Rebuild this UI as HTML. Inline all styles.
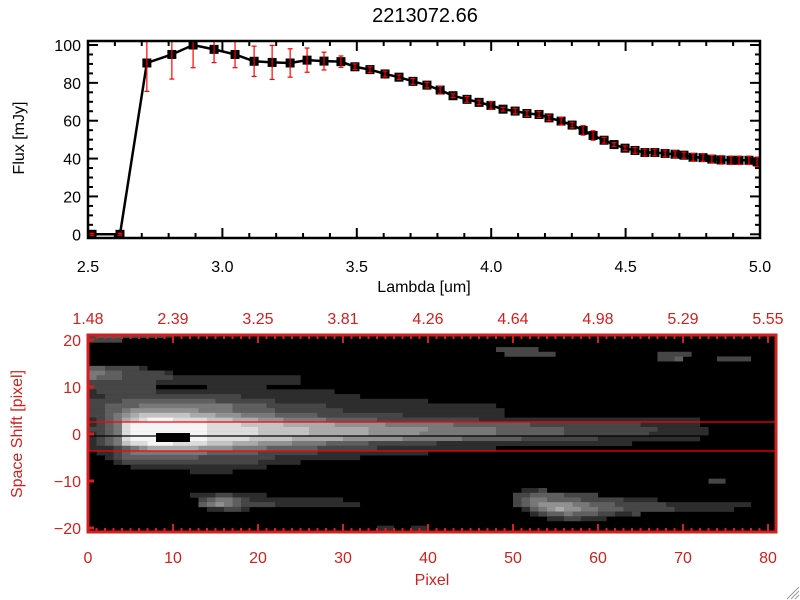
<!DOCTYPE html>
<html><head><meta charset="utf-8">
<style>
html,body{margin:0;padding:0;background:#fff;width:800px;height:600px;overflow:hidden}
svg{display:block;font-family:"Liberation Sans",sans-serif}
</style></head>
<body>
<svg id="c" width="800" height="600" viewBox="0 0 800 600">
<rect width="800" height="600" fill="#fff"/>
<text x="425" y="22" font-size="20" text-anchor="middle">2213072.66</text>
<g id="topg"></g>
<g id="botg"></g>
<g stroke="#999" stroke-width="1">
<line x1="787" y1="599" x2="799" y2="587"/><line x1="791" y1="599" x2="799" y2="591"/><line x1="795" y1="599" x2="799" y2="595"/>
</g>
</svg>
<script>
const lambdas=[2.515,2.619,2.719,2.812,2.891,2.969,3.047,3.118,3.185,3.252,3.315,3.378,3.441,3.493,3.549,3.605,3.657,3.709,3.761,3.810,3.858,3.910,3.955,3.999,4.044,4.089,4.133,4.178,4.215,4.260,4.301,4.342,4.379,4.420,4.457,4.498,4.535,4.572,4.609,4.647,4.684,4.717,4.751,4.788,4.821,4.855,4.892,4.922,4.959,4.989];
const flux=[0,0,90.5,95,100,97.7,95,91.4,90.8,90.5,92,91.5,91.2,88.5,87,84.7,83,80.8,78.8,76.2,73.2,71.3,69.7,68.1,66.1,65.1,63.8,63.3,61.5,59.8,57.7,54.9,52.2,49.7,47.4,45.5,44.3,43.2,43.2,42.7,42.3,41.8,40.7,40.5,39.7,39.3,39.1,39.1,39.1,38.3];
const fluxErr=[0.5,0.5,15,13,12,7,7,8,9,7.5,6.4,4.7,3,1.5,1.5,1.5,1.2,1.5,1.5,2,1,1.5,1.2,2,1,1.5,1.5,1.5,1.5,2,1.5,2.5,2.5,1.5,1,1.2,1.5,1.8,1.8,1.8,1.8,1.6,2,2,2,2.2,2.2,2.2,2.2,2.5];
const xTicksTop=[2.5,3.0,3.5,4.0,4.5,5.0];
const yTicksTop=[0,20,40,60,80,100];
const pixTicks=[0,10,20,30,40,50,60,70,80];
const waveTickLabels=["1.48","2.39","3.25","3.81","4.26","4.64","4.98","5.29","5.55"];
const shiftTicks=[-20,-10,0,10,20];
// heatmap: [row, startCol, levels 0-9]
const heatRows=[
[21,0,"2333222221"],[20,0,"2222"],
[18,48,"22222"],[17,49,"222222"],[17,67,"2222"],[16,67,"223"],[16,74,"2222"],
[14,0,"3322221"],[13,0,"4433222221"],
[12,0,"4333222222111111111111111"],[11,0,"2222222211111111111111111"],
[10,0,"222222220000001111111"],[9,0,"12222222111111111111111111111"],
[8,0,"11222222222222222211111111111111"],[7,0,"2222333333333332222222111111111111111111"],
[6,0,"223333444444444443333222222211111111111111111111"],
[5,0,"2233455555555444433333222222221111111111111111111"],
[4,0,"2234567777776665554444333332222222222111111111111"],
[3,0,"123467899988887776665554444433333322222222222211111111111111111111111111"],
[2,0,"123489999999998888777776666665555554444444433333333322222222222221111111"],
[1,0,"2234899999999988888877777766666665555555444444443333333322222222222111111"],
[0,0,"1234899999999988888877777766666665555554444444443333333322222222221111111"],
[-1,0,"123489999999998888877777666666555555544444443333333222222222111111111111"],
[-2,0,"1234788999888877766655554444333332222222211111111111111111111111"],
[-3,0,"111234566666655554444333333222222211111111111111"],
[-4,0,"0112344444444433333322222221111111111111"],
[-5,0,"00123333333332222222221111111111"],
[-6,0,"0001222222222222222211111"],[-7,0,"000001111111111111111"],
[-8,12,"11111"],[-10,73,"22"],
[-12,51,"112"],[-13,12,"111221111"],[-13,50,"2233332222"],
[-14,13,"23443211111111111"],[-14,50,"23443333222221111"],
[-15,13,"3454322221111111111"],[-15,50,"2345555443332222221111111111"],
[-16,14,"11221"],[-16,51,"1345655443332222221111111"],
[-17,52,"1233433322112"],[-18,54,"1122111"],[-20,34,"11"],[-20,38,"11"]
];
const svgNS="http://www.w3.org/2000/svg";
function mk(parent,tag,attrs,text){const e=document.createElementNS(svgNS,tag);for(const k in attrs)e.setAttribute(k,attrs[k]);if(text!==undefined)e.textContent=text;parent.appendChild(e);return e;}

// ---------- top plot ----------
const T={x0:88,x1:760,y0:41,y1:238};
const tx=v=>T.x0+(v-2.5)*(T.x1-T.x0)/2.5;
const ty=v=>234.3-v*1.893;
const topG=document.getElementById('topg');
const cp=mk(topG,'clipPath',{id:'clipTop'});
mk(cp,'rect',{x:T.x0,y:T.y0,width:T.x1-T.x0,height:T.y1-T.y0});
for(let i=0;i<=25;i++){const v=2.5+i*0.1;const x=tx(v);const major=i%5===0;const L=major?10:5;
 const t1=mk(topG,'line',{x1:x,y1:T.y1,x2:x,y2:T.y1-L,stroke:'#000','stroke-width':2});
 
 
 const t2=mk(topG,'line',{x1:x,y1:T.y0,x2:x,y2:T.y0+L,stroke:'#000','stroke-width':2});
 
 }
for(let v=0;v<=100;v+=5){const y=ty(v);const L=v%20===0?10:5;
 const t1=mk(topG,'line',{x1:T.x0,y1:y,x2:T.x0+L,y2:y,stroke:'#000','stroke-width':2});
 
 
 const t2=mk(topG,'line',{x1:T.x1,y1:y,x2:T.x1-L,y2:y,stroke:'#000','stroke-width':2});
 
 }
xTicksTop.forEach(v=>{const t=mk(topG,'text',{x:tx(v),y:272,'font-size':16,'text-anchor':'middle'},v.toFixed(1));
 
 });
yTicksTop.forEach(v=>{const t=mk(topG,'text',{x:81,y:ty(v)+6,'font-size':16,'text-anchor':'end'},String(v));
 
 });
const xl=mk(topG,'text',{x:424,y:292,'font-size':16,'text-anchor':'middle'},'Lambda [um]');


const yl=mk(topG,'text',{x:0,y:0,'font-size':16,'text-anchor':'middle',transform:'translate(24,138) rotate(-90)'},'Flux [mJy]');


const series=mk(topG,'g',{'clip-path':'url(#clipTop)'});


const fline=mk(series,'polyline',{points:lambdas.map((l,i)=>tx(l)+','+ty(flux[i])).join(' '),fill:'none',stroke:'#000','stroke-width':2.5});


lambdas.forEach((l,i)=>{const x=tx(l),y=ty(flux[i]);
 const m=mk(series,'rect',{x:x-4.5,y:y-4.5,width:9,height:9,fill:'#000'});
 
 });
lambdas.forEach((l,i)=>{const x=tx(l),ya=ty(flux[i]+fluxErr[i]),yb=ty(flux[i]-fluxErr[i]);
 const g=mk(series,'g',{stroke:'#f00','stroke-width':1.2});
 
 
 mk(g,'line',{x1:x,y1:ya,x2:x,y2:yb});mk(g,'line',{x1:x-2.5,y1:ya,x2:x+2.5,y2:ya});mk(g,'line',{x1:x-2.5,y1:yb,x2:x+2.5,y2:yb});});
const frame=mk(topG,'rect',{x:T.x0,y:T.y0,width:T.x1-T.x0,height:T.y1-T.y0,fill:'none',stroke:'#000','stroke-width':2.5});



// ---------- bottom plot ----------
const B={x0:88,x1:776,y0:335,y1:532};
const bx=c=>B.x0+c*8.5;
const by=r=>434-r*4.7;
const RED='#d02020';
const botG=document.getElementById('botg');
mk(botG,'rect',{x:B.x0,y:B.y0,width:B.x1-B.x0,height:B.y1-B.y0,fill:'#000'});
const heat=mk(botG,'g',{});


heatRows.forEach(([r,c0,s])=>{for(let k=0;k<s.length;k++){const L=+s[k];if(!L)continue;const g=Math.min(255,20+L*25);
 const yTop=Math.max(B.y0,by(r)-2.35),yBot=Math.min(B.y1,by(r)+2.35);
 const cell=mk(heat,'rect',{x:bx(c0+k),y:yTop,width:8.6,height:yBot-yTop+0.3,fill:`rgb(${g},${g},${g})`});
 
 }});
const blk=mk(botG,'rect',{x:bx(8),y:433,width:bx(12)-bx(8),height:9,fill:'#000'});


const cl=mk(botG,'line',{x1:B.x0,y1:436,x2:B.x1,y2:436,stroke:'#000','stroke-width':1.2});


[422,451].forEach(y=>{const l=mk(botG,'line',{x1:B.x0,y1:y,x2:B.x1,y2:y,stroke:'#f00','stroke-width':1.2});
 
 });
for(let c=0;c<=80;c++){const x=bx(c);const L=c%10===0?8:4;
 const t1=mk(botG,'line',{x1:x,y1:B.y1,x2:x,y2:B.y1-L,stroke:RED,'stroke-width':2});
 
 
 const t2=mk(botG,'line',{x1:x,y1:B.y0,x2:x,y2:B.y0+L,stroke:RED,'stroke-width':2});
 
 }
shiftTicks.forEach(v=>{const t=mk(botG,'line',{x1:B.x0,y1:by(v),x2:B.x0+6,y2:by(v),stroke:RED,'stroke-width':3});
 
 
 const lb=mk(botG,'text',{x:81,y:by(v)+6,'font-size':16,'text-anchor':'end',fill:RED},v<0?'\u2212'+(-v):String(v));
 
 });
pixTicks.forEach((v,i)=>{const t=mk(botG,'text',{x:bx(v),y:563,'font-size':16,'text-anchor':'middle',fill:RED},String(v));
 
 
 const w=mk(botG,'text',{x:bx(v),y:324,'font-size':16,'text-anchor':'middle',fill:RED},waveTickLabels[i]);
 
 });
const pxl=mk(botG,'text',{x:432,y:585,'font-size':16,'text-anchor':'middle',fill:RED},'Pixel');


const ss=mk(botG,'text',{x:0,y:0,'font-size':16,'text-anchor':'middle',fill:RED,transform:'translate(22,434) rotate(-90)'},'Space Shift [pixel]');


const bf=mk(botG,'rect',{x:B.x0,y:B.y0,width:B.x1-B.x0,height:B.y1-B.y0,fill:'none',stroke:RED,'stroke-width':3});


</script>
</body></html>
